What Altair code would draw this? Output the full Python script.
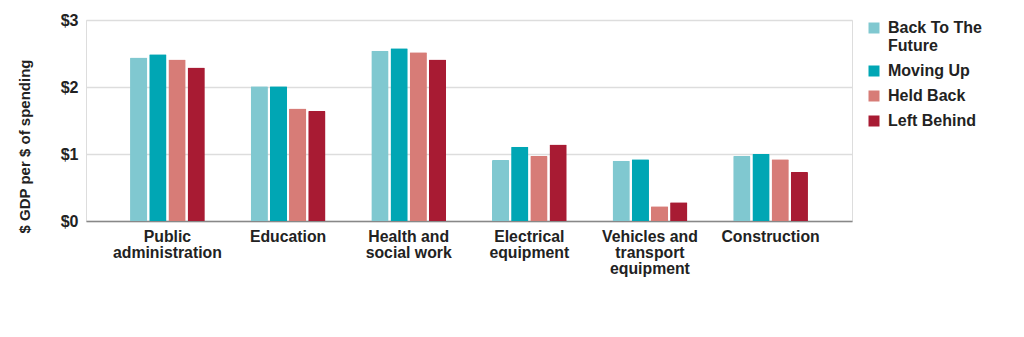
import altair as alt
import pandas as pd

categories = ["Public administration", "Education", "Health and social work",
              "Electrical equipment", "Vehicles and transport equipment", "Construction"]
cat_lines = {
    "Public administration": ["Public", "administration"],
    "Education": ["Education"],
    "Health and social work": ["Health and", "social work"],
    "Electrical equipment": ["Electrical", "equipment"],
    "Vehicles and transport equipment": ["Vehicles and", "transport", "equipment"],
    "Construction": ["Construction"],
}
series = ["Back To The Future", "Moving Up", "Held Back", "Left Behind"]
colors = ["#80c8d0", "#00a6b4", "#d77c77", "#a81b33"]

back_to_future = [2.44, 2.01, 2.54, 0.91, 0.90, 0.97]
moving_up = [2.49, 2.01, 2.58, 1.11, 0.92, 1.00]
held_back = [2.41, 1.68, 2.52, 0.97, 0.22, 0.92]
left_behind = [2.29, 1.64, 2.41, 1.14, 0.28, 0.73]

rows = []
for s, vals in zip(series, [back_to_future, moving_up, held_back, left_behind]):
    for c, v in zip(categories, vals):
        rows.append({"category": c, "series": s, "value": v})
df = pd.DataFrame(rows)

def js_list(lst):
    return "[" + ",".join("'" + x + "'" for x in lst) + "]"

label_expr = ""
for c in categories:
    label_expr += f"datum.label == '{c}' ? {js_list(cat_lines[c])} : "
label_expr += "datum.label"

legend_expr = "datum.label == 'Back To The Future' ? ['Back To The', 'Future'] : datum.label"

FONT = "Liberation Sans"

chart = alt.Chart(df).mark_bar(cornerRadiusTopLeft=1, cornerRadiusTopRight=1).encode(
    x=alt.X("category:N", sort=categories,
            scale=alt.Scale(paddingInner=0.38, paddingOuter=0.365),
            axis=alt.Axis(title=None, labelAngle=0, labelExpr=label_expr,
                          labelFont=FONT, labelFontSize=15.8, labelFontWeight="bold",
                          labelColor="#222222", labelLineHeight=16, labelPadding=8,
                          ticks=False, domainColor="#888888", domainWidth=1.5,
                          labelBaseline="top")),
    xOffset=alt.XOffset("series:N", sort=series, scale=alt.Scale(paddingInner=0.1)),
    y=alt.Y("value:Q", scale=alt.Scale(domain=[0, 3]),
            axis=alt.Axis(title="$ GDP per $ of spending", values=[0, 1, 2, 3],
                          format="$d", labelFont=FONT, labelFontSize=16,
                          labelFontWeight="bold", labelColor="#222222",
                          labelPadding=8, ticks=False, domain=False,
                          gridColor="#dddddd", gridWidth=1.5,
                          titleFont=FONT, titleFontSize=15, titleFontWeight="bold",
                          titleColor="#222222", titleX=-54, titleY=126)),
    color=alt.Color("series:N", sort=series,
                    scale=alt.Scale(domain=series, range=colors),
                    legend=alt.Legend(title=None, symbolType="square", symbolSize=121,
                                      symbolStrokeWidth=0, labelFont=FONT,
                                      labelFontSize=16, labelFontWeight="bold",
                                      labelColor="#222222", labelExpr=legend_expr,
                                      rowPadding=9, offset=14,
                                      labelOffset=6, labelLimit=200)),
).properties(
    width=766, height=201,
    autosize=alt.AutoSizeParams(type="none"),
    padding={"left": 86, "top": 20, "right": 172, "bottom": 116},
).configure_view(stroke=None).configure(background="white")

chart.save("out.html", embed_options={"renderer": "svg", "actions": False})
